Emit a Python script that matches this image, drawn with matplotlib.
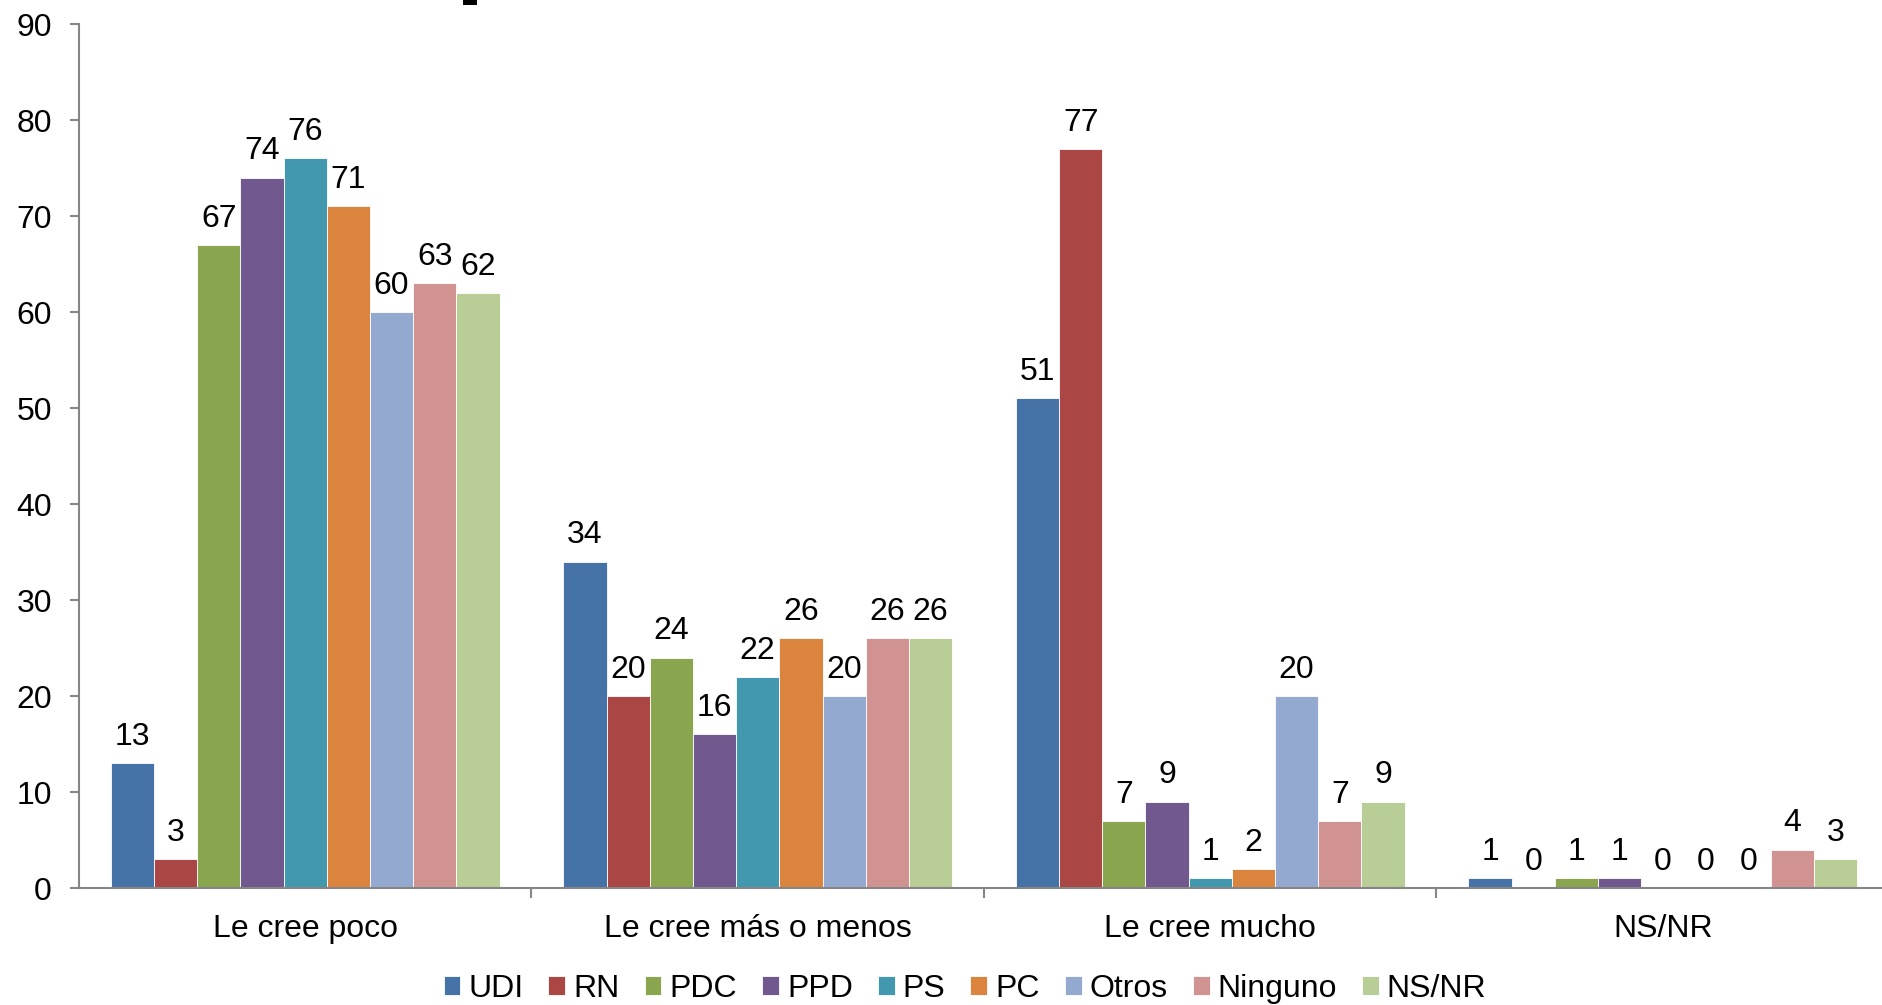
import matplotlib

matplotlib.use("Agg")
import matplotlib.pyplot as plt
from matplotlib.patches import Rectangle
import numpy as np

plt.rcParams["font.family"] = ["Liberation Sans", "DejaVu Sans"]

categorias = ["Le cree poco", "Le cree más o menos", "Le cree mucho", "NS/NR"]
partidos = ["UDI", "RN", "PDC", "PPD", "PS", "PC", "Otros", "Ninguno", "NS/NR"]
colores = ["#4572A7", "#AA4643", "#89A54E", "#71588F", "#4198AF",
           "#DB843D", "#93A9CF", "#D19392", "#B9CD96"]

udi = [13, 34, 51, 1]
rn = [3, 20, 77, 0]
pdc = [67, 24, 7, 1]
ppd = [74, 16, 9, 1]
ps = [76, 22, 1, 0]
pc = [71, 26, 2, 0]
otros = [60, 20, 20, 0]
ninguno = [63, 26, 7, 4]
nsnr = [62, 26, 9, 3]
series = [udi, rn, pdc, ppd, ps, pc, otros, ninguno, nsnr]

W, H = 1883, 1005
fig = plt.figure(figsize=(W / 100, H / 100), dpi=100)
fig.patch.set_facecolor("white")
# ejes: x=79..1889, y(0)=888, y(90)=24 en pixeles
ax = fig.add_axes([79 / W, 1 - 888 / H, 1810 / W, (888 - 24) / H])

gris = "#868686"
fs = 23
ancho = 0.0954
x = np.arange(len(categorias))
n = len(series)
for i, (vals, col, nom) in enumerate(zip(series, colores, partidos)):
    pos = x - ancho * n / 2 + ancho * (i + 0.5)
    ax.bar(pos, vals, width=ancho, color=col, edgecolor="white", linewidth=0.6, label=nom, zorder=2)
    for p, v in zip(pos, vals):
        ax.annotate(str(v), (p, v), xytext=(0, 8), textcoords="offset points",
                    ha="center", va="bottom", fontsize=fs, color="black")

ax.set_xlim(-0.5, len(categorias) - 0.5)
ax.set_ylim(0, 90)
ax.set_yticks(range(0, 91, 10))
ax.tick_params(axis="y", labelsize=fs, length=6.5, width=1.5, color=gris, pad=13)

ax.set_xticks(x)
ax.set_xticklabels(categorias, fontsize=fs)
ax.tick_params(axis="x", length=0, pad=19)
ax.set_xticks(np.arange(0.5, len(categorias) - 0.5, 1.0), minor=True)
ax.tick_params(axis="x", which="minor", length=7, width=1.5, color=gris)

for s in ["top", "right"]:
    ax.spines[s].set_visible(False)
for s in ["left", "bottom"]:
    ax.spines[s].set_color(gris)
    ax.spines[s].set_linewidth(1.5)

ax.legend(loc="center", bbox_to_anchor=(965 / W, 1 - 989 / H), bbox_transform=fig.transFigure,
          ncol=9, frameon=False, fontsize=fs, handlelength=0.53, handleheight=0.53,
          handletextpad=0.25, columnspacing=0.78, borderaxespad=0, borderpad=0)

# resto del titulo recortado en el borde superior
fig.patches.append(Rectangle((463 / W, 1 - 5 / H), 14 / W, 5 / H, transform=fig.transFigure,
                             facecolor="black", edgecolor="none"))

fig.savefig("out.png", dpi=100, facecolor="white")
